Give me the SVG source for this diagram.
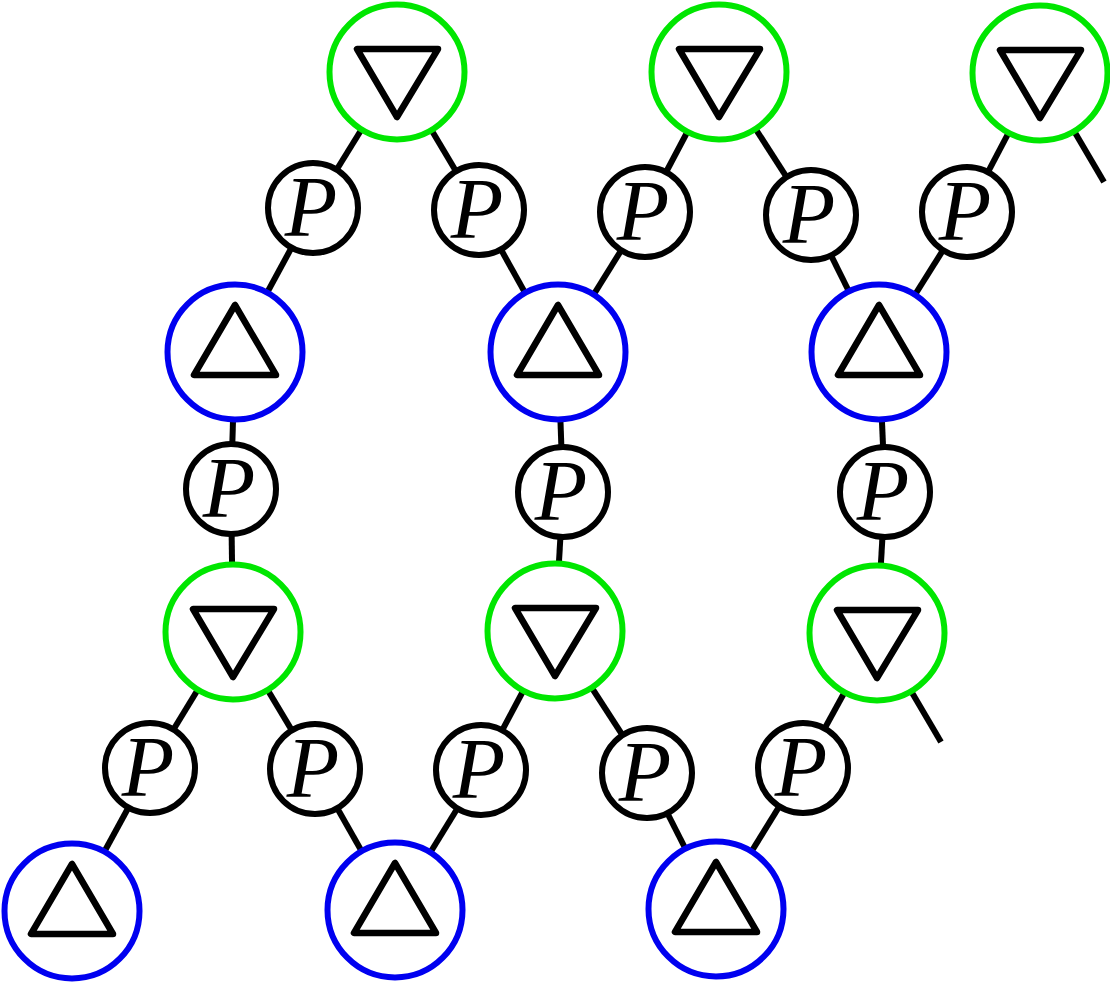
<svg xmlns="http://www.w3.org/2000/svg" width="1110" height="983" viewBox="0 0 1110 983">
<style>
.e{stroke:#000;stroke-width:6;fill:none}
.g{fill:#fff;stroke:#00e600;stroke-width:6}
.b{fill:#fff;stroke:#0000f0;stroke-width:6}
.p{fill:#fff;stroke:#000;stroke-width:6}
.t{fill:none;stroke:#000;stroke-width:6.5;stroke-linejoin:round}
</style>
<defs>
<polygon id="dn" points="-40,-23 41,-23 0,45" class="t"/>
<polygon id="up" points="0,-47 -41,23 41,23" class="t"/>
</defs>
<rect width="1110" height="983" fill="#fff"/>
<g id="connectors">
<line class="e" x1="397" y1="72" x2="313" y2="208"/>
<line class="e" x1="397" y1="72" x2="479" y2="210"/>
<line class="e" x1="719" y1="72" x2="645" y2="212"/>
<line class="e" x1="719" y1="72" x2="811" y2="215"/>
<line class="e" x1="1040" y1="73" x2="967" y2="212"/>
<line class="e" x1="1040" y1="73" x2="1104" y2="182"/>
<line class="e" x1="235" y1="352" x2="313" y2="208"/>
<line class="e" x1="235" y1="352" x2="231" y2="489"/>
<line class="e" x1="558" y1="352" x2="479" y2="210"/>
<line class="e" x1="558" y1="352" x2="645" y2="212"/>
<line class="e" x1="558" y1="352" x2="563" y2="492"/>
<line class="e" x1="879" y1="352" x2="811" y2="215"/>
<line class="e" x1="879" y1="352" x2="967" y2="212"/>
<line class="e" x1="879" y1="352" x2="885" y2="492"/>
<line class="e" x1="233" y1="632" x2="231" y2="489"/>
<line class="e" x1="233" y1="632" x2="150" y2="768"/>
<line class="e" x1="233" y1="632" x2="315" y2="769"/>
<line class="e" x1="555" y1="631" x2="563" y2="492"/>
<line class="e" x1="555" y1="631" x2="481" y2="770"/>
<line class="e" x1="555" y1="631" x2="647" y2="773"/>
<line class="e" x1="877" y1="633" x2="885" y2="492"/>
<line class="e" x1="877" y1="633" x2="803" y2="768"/>
<line class="e" x1="877" y1="633" x2="941" y2="742"/>
<line class="e" x1="72" y1="911" x2="150" y2="768"/>
<line class="e" x1="395" y1="910" x2="315" y2="769"/>
<line class="e" x1="395" y1="910" x2="481" y2="770"/>
<line class="e" x1="716" y1="909" x2="647" y2="773"/>
<line class="e" x1="716" y1="909" x2="803" y2="768"/>
</g>
<g id="g1" transform="translate(397,72)"><circle class="g" r="67.5"/><use href="#dn"/></g>
<g id="g2" transform="translate(719,72)"><circle class="g" r="67.5"/><use href="#dn"/></g>
<g id="g3" transform="translate(1040,73)"><circle class="g" r="67.5"/><use href="#dn"/></g>
<g id="g4" transform="translate(233,632)"><circle class="g" r="67.5"/><use href="#dn"/></g>
<g id="g5" transform="translate(555,631)"><circle class="g" r="67.5"/><use href="#dn"/></g>
<g id="g6" transform="translate(877,633)"><circle class="g" r="67.5"/><use href="#dn"/></g>
<g id="b1" transform="translate(235,352)"><circle class="b" r="67.5"/><use href="#up"/></g>
<g id="b2" transform="translate(558,352)"><circle class="b" r="67.5"/><use href="#up"/></g>
<g id="b3" transform="translate(879,352)"><circle class="b" r="67.5"/><use href="#up"/></g>
<g id="b4" transform="translate(72,911)"><circle class="b" r="67.5"/><use href="#up"/></g>
<g id="b5" transform="translate(395,910)"><circle class="b" r="67.5"/><use href="#up"/></g>
<g id="b6" transform="translate(716,909)"><circle class="b" r="67.5"/><use href="#up"/></g>
<g font-family="Liberation Serif" font-style="italic" font-size="86" text-anchor="middle" fill="#000">
<g id="p1" transform="translate(313,208)"><circle class="p" r="45"/><text x="-2" y="28">P</text></g>
<g id="p2" transform="translate(479,210)"><circle class="p" r="45"/><text x="-2" y="28">P</text></g>
<g id="p3" transform="translate(645,212)"><circle class="p" r="45"/><text x="-2" y="28">P</text></g>
<g id="p4" transform="translate(811,215)"><circle class="p" r="45"/><text x="-2" y="28">P</text></g>
<g id="p5" transform="translate(967,212)"><circle class="p" r="45"/><text x="-2" y="28">P</text></g>
<g id="p6" transform="translate(231,489)"><circle class="p" r="45"/><text x="-2" y="28">P</text></g>
<g id="p7" transform="translate(563,492)"><circle class="p" r="45"/><text x="-2" y="28">P</text></g>
<g id="p8" transform="translate(885,492)"><circle class="p" r="45"/><text x="-2" y="28">P</text></g>
<g id="p9" transform="translate(150,768)"><circle class="p" r="45"/><text x="-2" y="28">P</text></g>
<g id="p10" transform="translate(315,769)"><circle class="p" r="45"/><text x="-2" y="28">P</text></g>
<g id="p11" transform="translate(481,770)"><circle class="p" r="45"/><text x="-2" y="28">P</text></g>
<g id="p12" transform="translate(647,773)"><circle class="p" r="45"/><text x="-2" y="28">P</text></g>
<g id="p13" transform="translate(803,768)"><circle class="p" r="45"/><text x="-2" y="28">P</text></g>
</g>
</svg>
